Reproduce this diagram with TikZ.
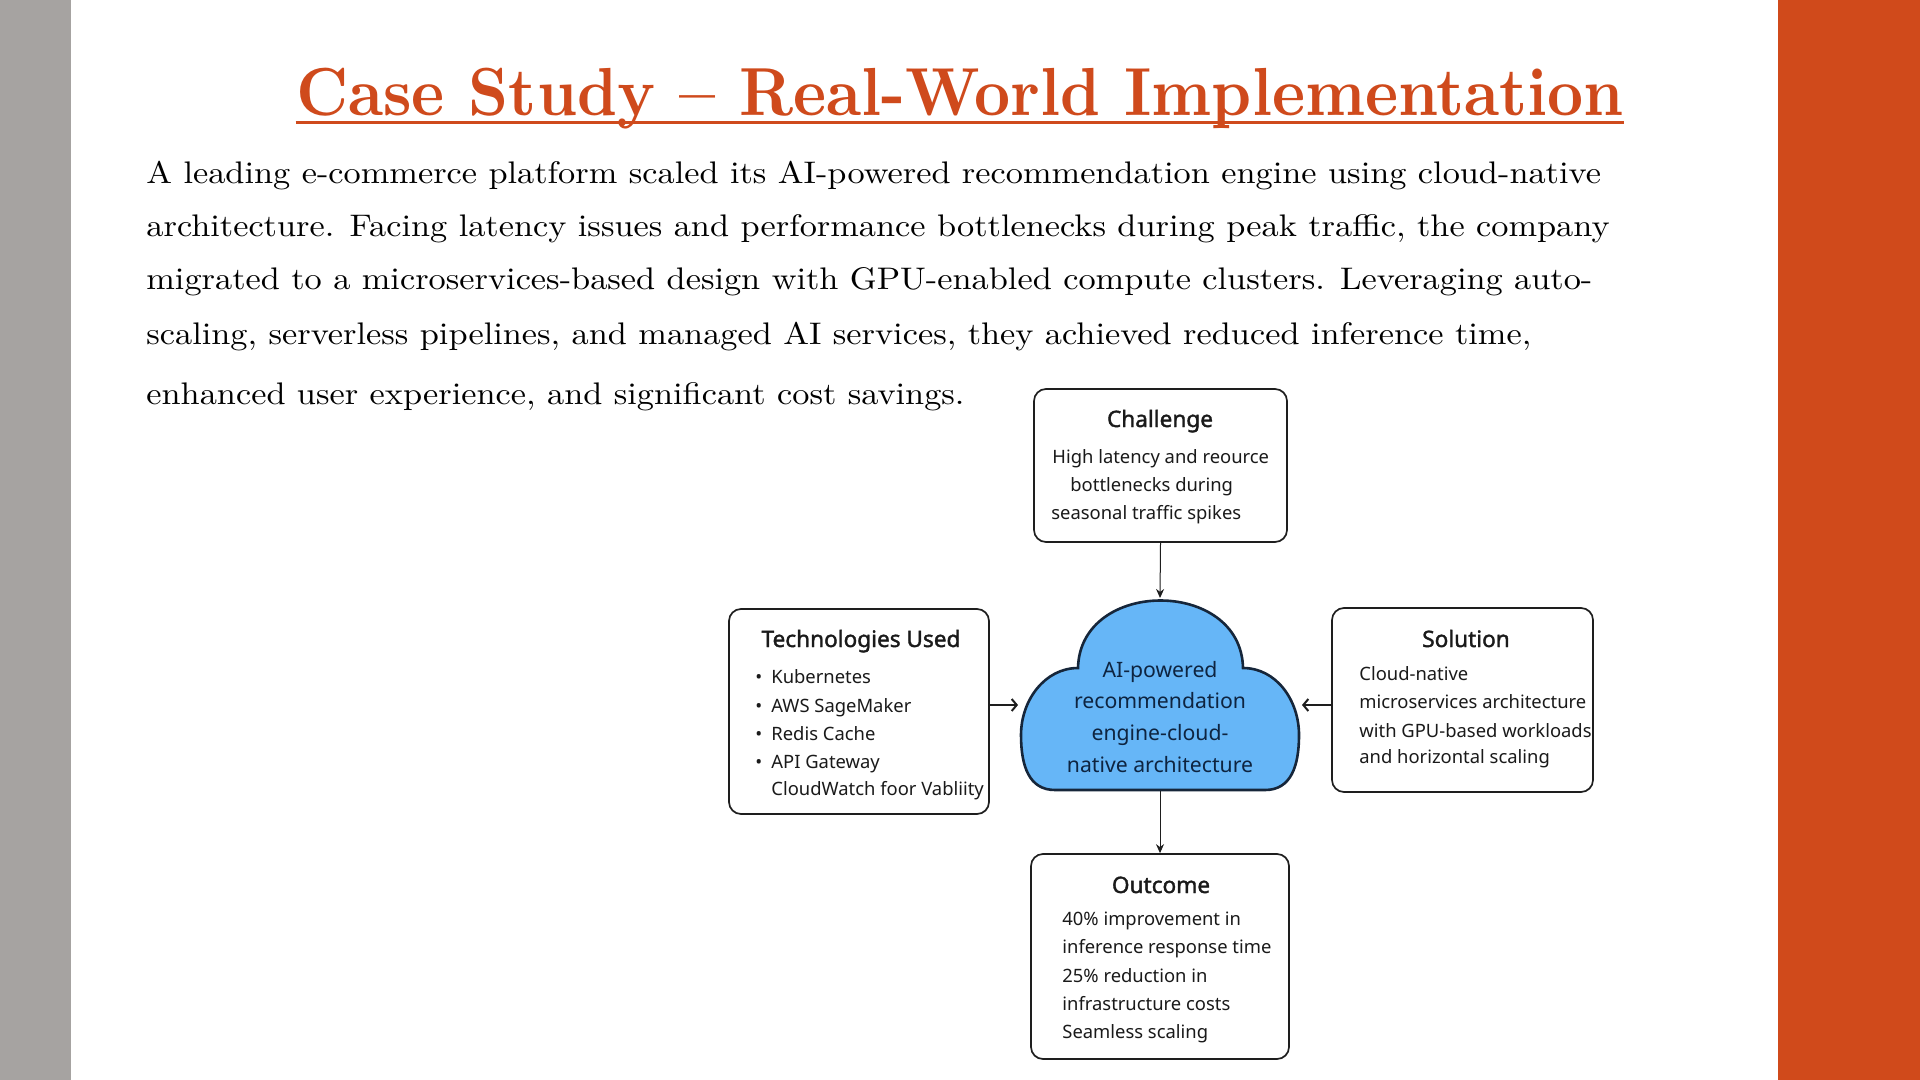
\documentclass[tikz,border=0pt]{standalone}
\usepackage{fontspec}
\setmainfont{Latin Modern Roman}
\newfontfamily\dfont{Noto Sans}
\newfontfamily\hfont{Noto Sans}[FakeBold=1.6]
\newfontfamily\bodyfont{lmroman10-regular.otf}[FakeStretch=1.1]
\newfontfamily\titlefont{lmroman10-bold.otf}[FakeStretch=0.923]
\usetikzlibrary{arrows.meta}
\definecolor{barorange}{HTML}{D04A1B}
\definecolor{bargray}{HTML}{A6A3A1}
\definecolor{titleor}{HTML}{CF4A1C}
\definecolor{boxline}{HTML}{1E1E1E}
\definecolor{textdark}{HTML}{1A1A1A}
\definecolor{cloudfill}{HTML}{66B6F7}
\definecolor{cloudline}{HTML}{16263A}
\definecolor{cloudtext}{HTML}{0E2440}
\tikzset{
  box/.style={draw=boxline, line width=0.85pt, rounded corners=6pt, inner sep=0pt, fill=white},
  head/.style={font=\hfont\fontsize{11.3}{13}\selectfont, anchor=base, inner sep=0pt, text=textdark},
  dtxt/.style={font=\dfont\fontsize{9.2}{11}\selectfont, anchor=base west, inner sep=0pt, text=textdark},
  ctxt/.style={font=\dfont\fontsize{10.6}{12}\selectfont, anchor=base, inner sep=0pt, text=cloudtext},
  body/.style={font=\bodyfont\fontsize{15.6}{19}\selectfont, anchor=base west, inner sep=0pt, text=black},
  thinarrow/.style={-{Stealth[length=4.5pt,width=4pt]}, line width=0.5pt, draw=boxline},
  sidearrow/.style={-{Straight Barb[length=2.5pt,width=6pt]}, line width=1pt, draw=boxline},
}
\begin{document}
\begin{tikzpicture}[x=0.5pt,y=-0.5pt]
\useasboundingbox (0,0) rectangle (1920,1080);
\fill[white] (0,0) rectangle (1920,1080);
\fill[bargray] (0,0) rectangle (71,1080);
\fill[barorange] (1778,0) rectangle (1920,1080);

% title
\node[anchor=base, inner sep=0pt, text=titleor, font=\titlefont\fontsize{34}{38}\selectfont] (title) at (960,116) {Case Study – Real-World Implementation};
\draw[titleor, line width=1.5pt] ([yshift=-3.5pt]title.base west) -- ([yshift=-3.5pt]title.base east);

% body text
\node[body] (b1) at (146,184) {A leading e-commerce platform scaled its AI-powered recommendation engine using cloud-native};
\node[body] (b2) at (146,237) {architecture. Facing latency issues and performance bottlenecks during peak traffic, the company};
\node[body] (b3) at (146,290) {migrated to a microservices-based design with GPU-enabled compute clusters. Leveraging auto-};
\node[body] (b4) at (146,344) {scaling, serverless pipelines, and managed AI services, they achieved reduced inference time,};
\node[body] (b5) at (146,404) {enhanced user experience, and significant cost savings.};

% boxes
\node[box, minimum width=126.5pt, minimum height=76.5pt] (chal) at (1160.5,465.5) {};
\node[box, minimum width=130pt, minimum height=102.5pt] (tech) at (859,711.5) {};
\node[box, minimum width=130.5pt, minimum height=92pt] (sol) at (1462.5,700) {};
\node[box, minimum width=129pt, minimum height=102.5pt] (out) at (1160,956.5) {};

% cloud
\draw[fill=cloudfill, draw=cloudline, line width=1.3pt]
  (1055,790) .. controls (1029,790) and (1021,766) .. (1021,735)
  .. controls (1021,700) and (1045,668) .. (1078,668)
  .. controls (1080,578) and (1241,578) .. (1243,668)
  .. controls (1276,668) and (1299,700) .. (1299,735)
  .. controls (1299,766) and (1291,790) .. (1265,790) -- cycle;
\coordinate (ctop) at (1160,598);
\coordinate (cbot) at (1160,791);
\coordinate (cleft) at (1018,705);
\coordinate (cright) at (1302,705);

% cloud text
\node[ctxt] (c1) at (1160,677) {AI-powered};
\node[ctxt] (c2) at (1160,708) {recommendation};
\node[ctxt] (c3) at (1160,740) {engine-cloud-};
\node[ctxt] (c4) at (1160,772) {native architecture};

% challenge
\node[head] (chh) at (1160,427) {Challenge};
\node[dtxt] (ch1) at (1052,463) {High latency and reource};
\node[dtxt] (ch2) at (1070,491) {bottlenecks during};
\node[dtxt] (ch3) at (1051,519) {seasonal traffic spikes};

% technologies
\node[head] (teh) at (861,647) {Technologies Used};
\node[dtxt] (t1) at (771,683) {\llap{•\hspace{4.5pt}}Kubernetes};
\node[dtxt] (t2) at (771,712) {\llap{•\hspace{4.5pt}}AWS SageMaker};
\node[dtxt] (t3) at (771,740) {\llap{•\hspace{4.5pt}}Redis Cache};
\node[dtxt] (t4) at (771,768) {\llap{•\hspace{4.5pt}}API Gateway};
\node[dtxt] (t5) at (771,795) {CloudWatch foor Vabliity};

% solution
\node[head] (soh) at (1466,647) {Solution};
\node[dtxt] (s1) at (1359,680) {Cloud-native};
\node[dtxt] (s2) at (1359,708) {microservices architecture};
\node[dtxt] (s3) at (1359,737) {with GPU-based workloads};
\node[dtxt] (s4) at (1359,763) {and horizontal scaling};

% outcome
\node[head] (ouh) at (1161,893) {Outcome};
\node[dtxt] (o1) at (1062,925) {40\% improvement in};
\node[dtxt] (o2) at (1062,953) {inference response time};
\node[dtxt] (o3) at (1062,982) {25\% reduction in};
\node[dtxt] (o4) at (1062,1010) {infrastructure costs};
\node[dtxt] (o5) at (1062,1038) {Seamless scaling};

% connectors
\draw[thinarrow] (chal.south) -- (ctop);
\draw[thinarrow] (cbot) -- (out.north);
\draw[sidearrow] (tech.east |- cleft) -- (cleft);
\draw[sidearrow] (sol.west |- cright) -- (cright);
\end{tikzpicture}
\end{document}
